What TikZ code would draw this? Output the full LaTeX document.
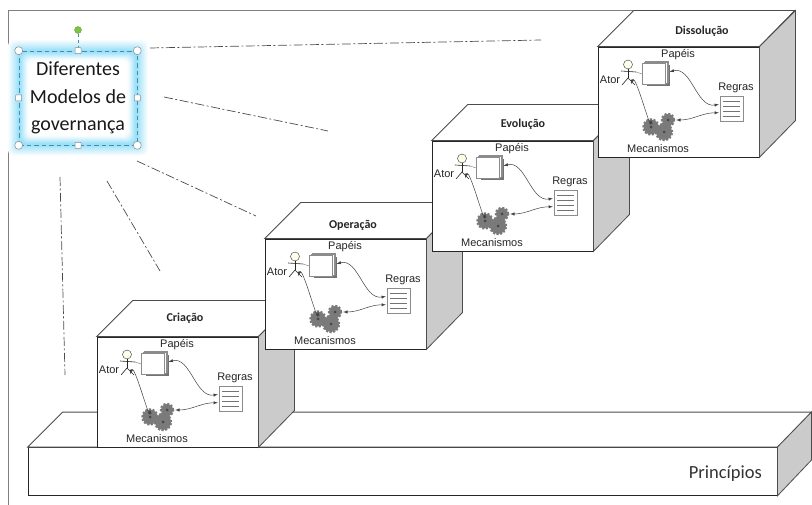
\documentclass[tikz,border=0pt]{standalone}
\usepackage{fontspec}
\setmainfont{Carlito}
\newfontfamily\arialfont{Liberation Sans}
\usetikzlibrary{positioning,arrows,shapes,calc}
\definecolor{glowblue}{HTML}{7AD6F7}
\definecolor{sidegray}{HTML}{CBCBCB}
\definecolor{framegray}{HTML}{7F7F7F}
\definecolor{selteal}{HTML}{3F8FA8}
\definecolor{giroverde}{HTML}{7CC243}

\begin{document}
\begin{tikzpicture}[
                    x=1pt, y=-1pt,
                    face/.style={draw=black!85, fill=white, line width=0.8pt, inner sep=0pt},
                    side/.style={draw=black!70, fill=sidegray, line width=0.8pt},
                    topface/.style={draw=black!70, fill=white, line width=0.8pt},
                    rotulo/.style={font=\arialfont\fontsize{11}{13}\selectfont, inner sep=0pt, text=black!85},
                    titulo/.style={font=\bfseries\fontsize{12}{14}\selectfont, inner sep=0pt, text=black!85},
                    papel/.style={draw=black!45, fill=white, minimum width=23pt, minimum height=21pt, inner sep=0pt},
                    sombra/.style={fill=black!55, minimum width=23pt, minimum height=21pt, inner sep=0pt},
                    engrenagem/.style={circle, fill=black!52, draw=black!52, line width=2.4pt, dash pattern=on 2pt off 1.6pt, inner sep=0pt},
                    furo/.style={circle, fill=black!72, minimum size=3pt, inner sep=0pt},
                    ligacao/.style={<->, >=latex, black!75, line width=0.5pt, shorten <=1pt, shorten >=1pt},
                    tracejado/.style={black!70, line width=0.7pt, dash pattern=on 9pt off 2.5pt on 2pt off 2.5pt},
                    alca/.style={draw=black!45, fill=white, line width=0.5pt, inner sep=0pt}
                ]
    \useasboundingbox (0,0) rectangle (812,505);

    % Frame
    \draw[framegray, line width=1pt] (8,505) -- (8,10.5) -- (795,10.5);

    % Base
    \node[face, minimum width=749pt, minimum height=48pt] (base) at (402.5,471.5) {};
    \draw[topface] (base.north west) -- ++(35,-35) -- ++(749,0) -- (base.north east) -- cycle;
    \draw[side] (base.north east) -- ++(34,-35) -- ++(0,48) -- (base.south east) -- cycle;
    \node[anchor=east, inner sep=0pt, text=black!80, font=\fontsize{18.5}{22}\selectfont] (principios) at (762,474) {Princípios};

    % Stages
    \foreach \n/\t/\x/\y/\tx/\ty in {a/Criação/97/337/88/-19, b/Operação/265/239/88/-14, c/Evolução/432/141/91/-17, d/Dissolução/598/47/104/-16} {
        \begin{scope}[shift={(\x,\y)}]
            \node[face, minimum width=161pt, minimum height=110pt] (\n-box) at (80.5,55) {};
            \draw[topface] (\n-box.north west) -- ++(36,-36) -- ++(161,0) -- (\n-box.north east) -- cycle;
            \draw[side] (\n-box.north east) -- ++(36,-36) -- ++(0,110) -- (\n-box.south east) -- cycle;
            \node[titulo] (\n-titulo) at (\tx,\ty) {\t};

            % Actor
            \node[circle, draw=black!80, fill=yellow!8, minimum size=9pt, inner sep=0pt] (\n-ator) at (30,17.5) {};
            \coordinate (\n-quadril) at (30,31);
            \draw[black!85, line width=0.6pt] (\n-ator.south) -- (\n-quadril);
            \draw[black!85, line width=0.6pt] (23,24) -- (38,25);
            \draw[black!85, line width=0.6pt] (24,38) -- (\n-quadril) -- (37,38);
            \node[rotulo] (\n-atorlabel) at (12,33) {Ator};

            % Roles
            \node[sombra] (\n-sombra) at (60.5,28.5) {};
            \node[papel] (\n-papel3) at (59,25) {};
            \node[papel] (\n-papel2) at (57.5,26) {};
            \node[papel] (\n-papel) at (56,27) {};
            \node[rotulo] (\n-papeis) at (80,8) {Papéis};
            \draw[black!45, line width=0.5pt] (38,25) -- (\n-papel.west);

            % Rules
            \node[draw=black!45, fill=white, minimum width=23pt, minimum height=25pt, inner sep=0pt] (\n-regra) at (133.5,61.5) {};
            \foreach \l in {54,59,64,69} {
                \draw[black!55, line width=0.5pt] (125,\l) -- (142,\l);
            }
            \node[rotulo] (\n-regras) at (138,41) {Regras};

            % Mechanisms
            \node[engrenagem, minimum size=15pt] (\n-eng1) at (53,80) {};
            \node[engrenagem, minimum size=12pt] (\n-eng2) at (70,73) {};
            \node[engrenagem, minimum size=16pt] (\n-eng3) at (66,85) {};
            \foreach \e in {eng1,eng2,eng3} {
                \node[furo] (\n-\e-furo) at (\n-\e) {};
            }
            \node[rotulo] (\n-mecanismos) at (60,102) {Mecanismos};

            % Links
            \coordinate (\n-pe) at (33,38);
            \draw[ligacao] (\n-papel3.east) to[out=15, in=190] (\n-regra.160);
            \draw[ligacao] (\n-pe) to[out=75, in=270] (\n-eng1.north);
            \draw[ligacao] (\n-regra.200) to[out=180, in=0] (\n-eng2.east);
        \end{scope}
    }

    % Glow
    \foreach \d/\c in {11/4, 10/10, 9/17, 8/24, 7/31, 6/38, 5/45, 4/52, 3/59, 2/66, 1/72, 0/75, -1/72, -2/64, -3/54, -4/44, -5/34, -6/24, -7/15, -8/8, -9/3, -10/0} {
        \fill[glowblue!\c!white, rounded corners=6pt] ({19-\d},{51-\d}) rectangle ({137+\d},{145+\d});
    }

    % Selection
    \node[draw=selteal, dashed, line width=0.6pt, dash pattern=on 4.5pt off 3pt, minimum width=118pt, minimum height=94pt, align=center, inner sep=0pt, text=black!90, font=\fontsize{20}{27.5}\selectfont] (modelos) at (78,98) {Diferentes\\Modelos de\\governança};
    \node[circle, fill=giroverde, draw=giroverde!80!black, line width=0.3pt, minimum size=7pt, inner sep=0pt] (giro) at (78,30) {};
    \draw[selteal, dashed, line width=0.5pt] (giro) -- (modelos.north);
    \foreach \a in {north west, north east, south west, south east} {
        \node[alca, circle, minimum size=8pt] (h-\a) at (modelos.\a) {};
    }
    \foreach \a in {north, south, east, west} {
        \node[alca, rectangle, rounded corners=0.5pt, minimum size=6pt] (h-\a) at (modelos.\a) {};
    }

    % Dash-dot lines
    \coordinate (l1a) at (150,48);  \coordinate (l1b) at (541,40);
    \coordinate (l2a) at (164,97);  \coordinate (l2b) at (328,131);
    \coordinate (l3a) at (137,161); \coordinate (l3b) at (256,216);
    \coordinate (l4a) at (107,181); \coordinate (l4b) at (160,271);
    \coordinate (l5a) at (60,177);  \coordinate (l5b) at (65,375);
    \draw[tracejado] (l1a) -- (l1b);
    \draw[tracejado] (l2a) -- (l2b);
    \draw[tracejado] (l3a) -- (l3b);
    \draw[tracejado] (l4a) -- (l4b);
    \draw[tracejado] (l5a) -- (l5b);
\end{tikzpicture}
\end{document}
